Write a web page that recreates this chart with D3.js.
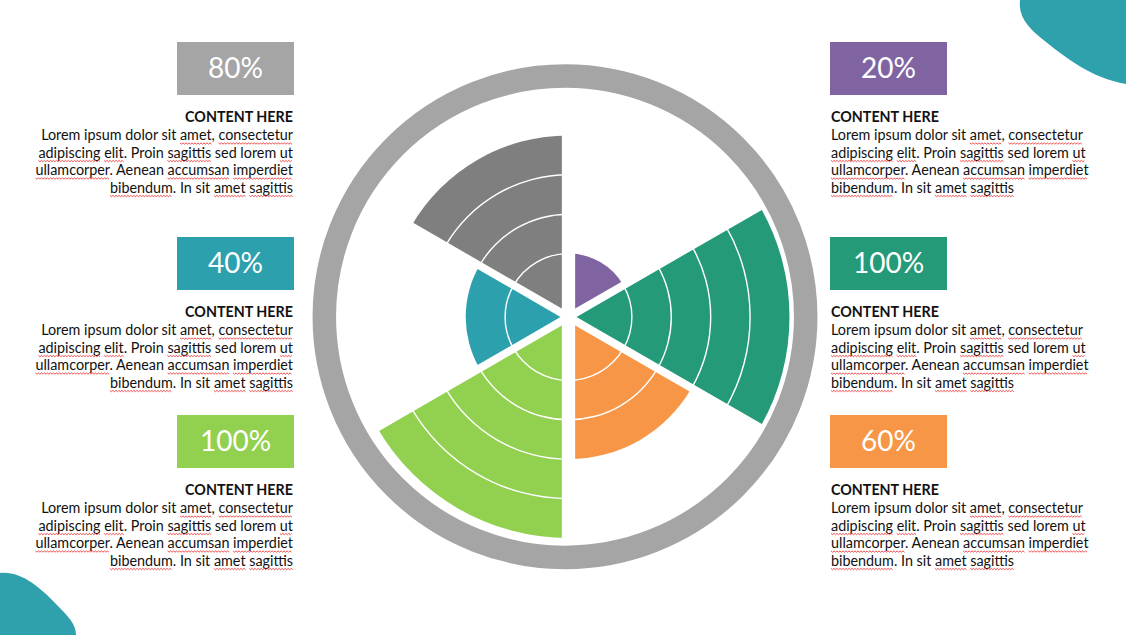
<!DOCTYPE html>
<html><head><meta charset="utf-8">
<script src="https://cdn.jsdelivr.net/npm/d3@7"></script>
<style>html,body{margin:0;padding:0;background:#fff;overflow:hidden}</style>
</head><body><svg id="c" width="1126" height="635"></svg>
<script>
// ---- data ----
const sectors = ["S1","S2","S3","S4","S5","S6"]; // clockwise from 12 o'clock
const values = [20, 100, 60, 100, 40, 80];
const ringLevels = [20, 40, 60, 80];
const leftLabels = ["80%", "40%", "100%"];
const rightLabels = ["20%", "100%", "60%"];
const headingText = "CONTENT HERE";
const bodyLines = [
  "Lorem ipsum dolor sit amet, consectetur",
  "adipiscing elit. Proin sagittis sed lorem ut",
  "ullamcorper. Aenean accumsan imperdiet",
  "bibendum. In sit amet sagittis"
];
const flaggedWords = ["amet","consectetur","adipiscing","elit","sagittis","ut","ullamcorper","accumsan","imperdiet","bibendum"];

// ---- styles ----
const sectorColors = ["#8064A2","#259A78","#F79646","#92D050","#2CA1AD","#7F7F7F"];
const leftColors = ["#A5A5A5","#2CA1AD","#92D050"];
const rightColors = ["#8064A2","#259A78","#F79646"];
const ringColor = "#A5A5A5";
const blobColor = "#2EA1AC";
const FONT = "Lato, 'Open Sans', sans-serif";

// ---- layout ----
const W = 1126, H = 635;
const ringC = {x: 565, y: 316.7}, ringR = 240.7, ringW = 23.5;
const wedgeC = {x: 568.5, y: 317};
const panelTops = [42, 237, 415];
const boxW = 117, boxH = 53;
const leftBoxX = 177, rightBoxX = 830;

const svg = d3.select("#c");

// background blobs
svg.append("path").attr("fill", blobColor)
  .attr("d", "M1020,0 C1018,15 1027,27 1041,38 C1066,58 1091,78 1126,84 L1126,0 Z");
svg.append("path").attr("fill", blobColor)
  .attr("d", "M0,573 C22,571 40,588 55,603 C68,616 76,624 76,635 L0,635 Z");

// outer ring
svg.append("circle").attr("cx", ringC.x).attr("cy", ringC.y).attr("r", ringR)
  .attr("fill", "none").attr("stroke", ringColor).attr("stroke-width", ringW);

// scales
const rScale = d3.scaleLinear().domain([0, 100]).range([24, 221]);
const aScale = d3.scaleLinear().domain([0, sectors.length]).range([0, 2 * Math.PI]);

const g = svg.append("g").attr("transform", `translate(${wedgeC.x},${wedgeC.y})`);
const wedge = d3.arc().innerRadius(0)
  .outerRadius(i => rScale(values[i]))
  .startAngle(i => aScale(i)).endAngle(i => aScale(i + 1));

g.selectAll("path.wedge").data(d3.range(sectors.length)).join("path")
  .attr("class", "wedge").attr("d", wedge).attr("fill", i => sectorColors[i]);

// white ring separators
const ringData = [];
values.forEach((v, i) => ringLevels.filter(l => l < v).forEach(l => ringData.push({i, l})));
const ringArc = d3.arc()
  .innerRadius(d => rScale(d.l) - 0.7).outerRadius(d => rScale(d.l) + 0.7)
  .startAngle(d => aScale(d.i)).endAngle(d => aScale(d.i + 1));
g.selectAll("path.ring").data(ringData).join("path")
  .attr("class", "ring").attr("d", ringArc).attr("fill", "#fff");

// gaps between sectors
const gapLen = rScale(100) + 2;
g.selectAll("line.gap").data(d3.range(sectors.length)).join("line")
  .attr("class", "gap")
  .attr("x1", 0).attr("y1", 0)
  .attr("x2", i => Math.sin(aScale(i)) * gapLen)
  .attr("y2", i => -Math.cos(aScale(i)) * gapLen)
  .attr("stroke", "#fff")
  .attr("stroke-width", i => Math.abs(Math.sin(aScale(i))) < 1e-6 ? 13.3 : 7.8);

// panels
function panel(label, color, top, side) {
  const bx = side === "left" ? leftBoxX : rightBoxX;
  svg.append("rect").attr("x", bx).attr("y", top).attr("width", boxW).attr("height", boxH).attr("fill", color);
  svg.append("text").attr("x", bx + boxW / 2).attr("y", top + 35.5)
    .attr("text-anchor", "middle").attr("fill", "#fff")
    .attr("font-family", FONT).attr("font-size", 28).text(label);
  const tx = side === "left" ? leftBoxX + boxW - 1 : rightBoxX + 1;
  const anchor = side === "left" ? "end" : "start";
  svg.append("text").attr("x", tx).attr("y", top + 80.3).attr("text-anchor", anchor)
    .attr("font-family", FONT).attr("font-weight", 700).attr("font-size", 14.3)
    .attr("fill", "#111").text(headingText);
  bodyLines.forEach((line, k) => {
    const y = top + 98.3 + k * 17.5;
    const t = svg.append("text").attr("x", tx).attr("y", y).attr("text-anchor", anchor)
      .attr("font-family", FONT).attr("font-size", 14.35).attr("fill", "#111").text(line);
    // spell-check squiggles
    const node = t.node();
    const re = /[A-Za-z]+/g; let m;
    while ((m = re.exec(line)) !== null) {
      if (!flaggedWords.includes(m[0])) continue;
      const s = node.getExtentOfChar(m.index);
      const e = node.getExtentOfChar(m.index + m[0].length - 1);
      const x0 = s.x, x1 = e.x + e.width;
      const p = d3.path(); const yy = y + 2.6;
      p.moveTo(x0, yy);
      let up = true;
      for (let x = x0 + 1.5; x <= x1 + 0.01; x += 1.5) { p.lineTo(x, up ? yy + 1.3 : yy); up = !up; }
      svg.append("path").attr("d", p.toString()).attr("fill", "none")
        .attr("stroke", "#f03a3a").attr("stroke-width", 0.9);
    }
  });
}
leftLabels.forEach((l, k) => panel(l, leftColors[k], panelTops[k], "left"));
rightLabels.forEach((l, k) => panel(l, rightColors[k], panelTops[k], "right"));
</script>
</body></html>
